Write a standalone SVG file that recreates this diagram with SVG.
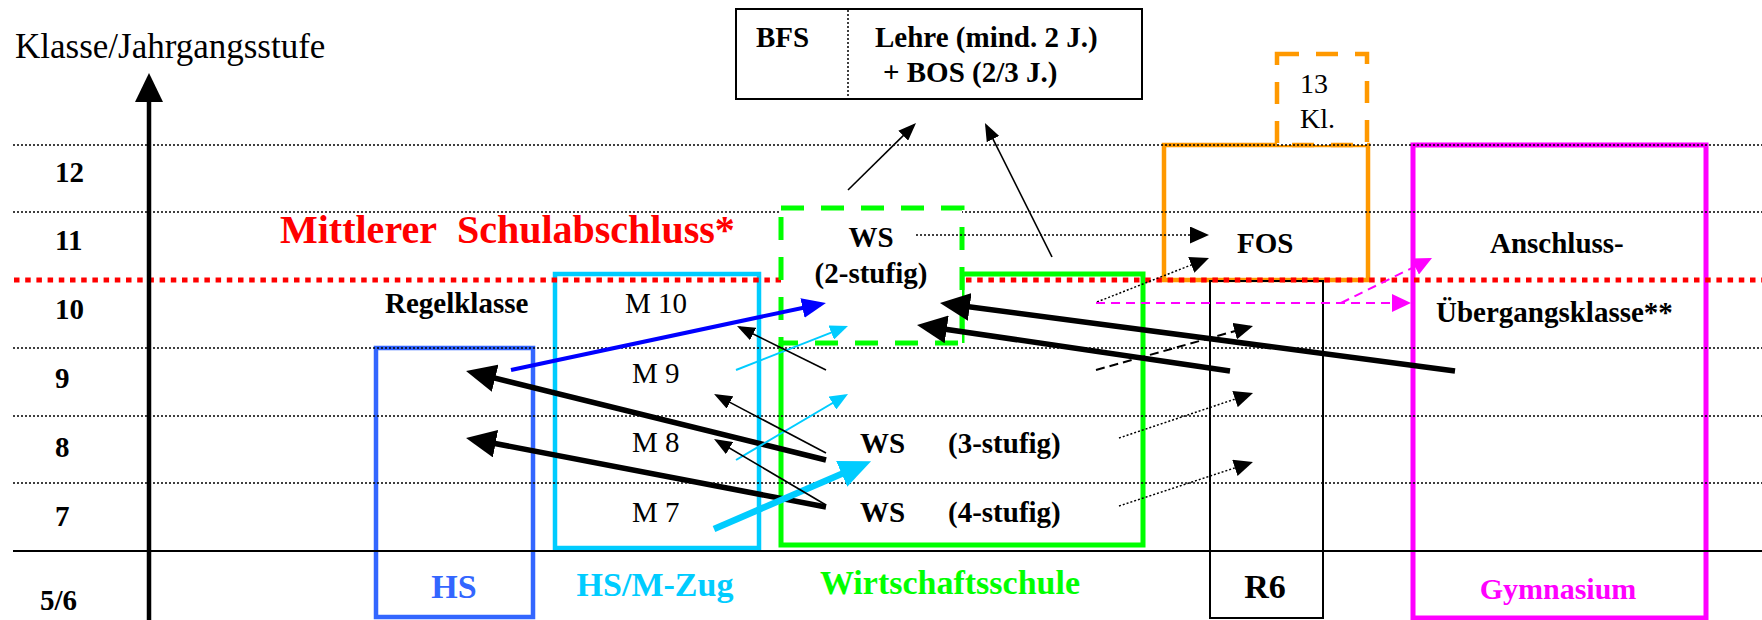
<svg xmlns="http://www.w3.org/2000/svg" width="1762" height="620" viewBox="0 0 1762 620">
<style>
text{font-family:"Liberation Serif","Times New Roman",serif;font-size:29px;fill:#000}
.b{font-weight:bold}
.cat{font-weight:bold;font-size:34px}
.grid{stroke:#000;stroke-width:1.5;stroke-dasharray:2 2;fill:none}
.box{fill:none}
.thin{stroke:#000;stroke-width:1.6;fill:none}
.dot{stroke:#000;stroke-width:1.5;stroke-dasharray:2 2;fill:none}
.thick{stroke:#000;stroke-width:5.5;fill:none}
</style>
<defs>
<marker id="hBig" markerUnits="userSpaceOnUse" markerWidth="30" markerHeight="28" refX="22" refY="14" orient="auto"><path d="M0,0 L30,14 L0,28 z" fill="#000"/></marker>
<marker id="hBlue" markerUnits="userSpaceOnUse" markerWidth="24" markerHeight="20" refX="18" refY="10" orient="auto"><path d="M0,0 L24,10 L0,20 z" fill="#0000ff"/></marker>
<marker id="hCyanBig" markerUnits="userSpaceOnUse" markerWidth="32" markerHeight="28" refX="23" refY="14" orient="auto"><path d="M0,0 L32,14 L0,28 z" fill="#00ccff"/></marker>
<marker id="hCyan" markerUnits="userSpaceOnUse" markerWidth="18" markerHeight="15" refX="15" refY="7.5" orient="auto"><path d="M0,0 L18,7.5 L0,15 z" fill="#00ccff"/></marker>
<marker id="hThin" markerUnits="userSpaceOnUse" markerWidth="18" markerHeight="14" refX="15" refY="7" orient="auto"><path d="M0,0 L18,7 L0,14 z" fill="#000"/></marker>
<marker id="hDot" markerUnits="userSpaceOnUse" markerWidth="19" markerHeight="17" refX="16" refY="8.5" orient="auto"><path d="M0,0 L19,8.5 L0,17 z" fill="#000"/></marker>
<marker id="hMag" markerUnits="userSpaceOnUse" markerWidth="19" markerHeight="18" refX="16" refY="9" orient="auto"><path d="M0,0 L19,9 L0,18 z" fill="#ff00ff"/></marker>
</defs>
<rect width="1762" height="620" fill="#fff"/>

<g id="hs">
<rect class="box" x="376" y="348" width="157" height="269" stroke="#3366ff" stroke-width="4.5"/>
</g>
<g id="hsm">
<rect class="box" x="555" y="274" width="204" height="274" stroke="#00ccff" stroke-width="4.5"/>
</g>
<g id="ws-frame">
<path class="box" d="M781,343 V545 H1143 V274 H962 V343" stroke="#00ff00" stroke-width="5"/>
</g>
<g id="fos">
<rect class="box" x="1164" y="145" width="204" height="135" stroke="#ff9900" stroke-width="4.5"/>
</g>
<g id="r6">
<rect class="box" x="1210" y="281" width="113" height="337" stroke="#000" stroke-width="2"/>
</g>
<g id="gym">
<rect class="box" x="1413" y="145" width="293" height="473" stroke="#ff00ff" stroke-width="5"/>
</g>
<g id="kl13">
<rect x="1277" y="54" width="90" height="91" fill="#fff" stroke="#ff9900" stroke-width="4.5" stroke-dasharray="22 17"/>
</g>
<g id="top">
<rect x="736" y="9" width="406" height="90" fill="#fff" stroke="#000" stroke-width="2"/>
<line x1="848" y1="10" x2="848" y2="98" class="dot" stroke-width="1.2"/>
</g>

<g id="grid">
<line class="grid" x1="13" y1="145" x2="1762" y2="145"/>
<line class="grid" x1="13" y1="212" x2="1762" y2="212"/>
<line class="grid" x1="13" y1="348" x2="1762" y2="348"/>
<line class="grid" x1="13" y1="416" x2="1762" y2="416"/>
<line class="grid" x1="13" y1="483" x2="1762" y2="483"/>
<line x1="13" y1="551" x2="1762" y2="551" stroke="#000" stroke-width="2"/>
<line x1="14" y1="280" x2="1762" y2="280" stroke="#ff0000" stroke-width="5" stroke-dasharray="5.5 5.7"/>
</g>

<g id="ws2">
<rect x="781" y="208" width="181" height="135" fill="#fff" stroke="#00ff00" stroke-width="5" stroke-dasharray="23 17"/>
<text class="b" x="871" y="247" text-anchor="middle">WS</text>
<text class="b" x="871" y="283" text-anchor="middle">(2-stufig)</text>
</g>

<g id="labels">
<text x="15" y="58" style="font-size:35px">Klasse/Jahrgangsstufe</text>
<text class="b" x="55" y="182">12</text>
<text class="b" x="55" y="250">11</text>
<text class="b" x="55" y="319">10</text>
<text class="b" x="55" y="388">9</text>
<text class="b" x="55" y="457">8</text>
<text class="b" x="55" y="526">7</text>
<text class="b" x="40" y="610">5/6</text>
<text class="b" x="280" y="243" style="font-size:40px;fill:#ff0000">Mittlerer&#160; Schulabschluss*</text>
<text class="b" x="385" y="313">Regelklasse</text>
<text x="625" y="313">M 10</text>
<text x="632" y="383">M 9</text>
<text x="632" y="452">M 8</text>
<text x="632" y="522">M 7</text>
<text class="b" x="860" y="453">WS</text>
<text class="b" x="948" y="453">(3-stufig)</text>
<text class="b" x="860" y="522">WS</text>
<text class="b" x="948" y="522">(4-stufig)</text>
<text class="b" x="756" y="47">BFS</text>
<text class="b" x="875" y="47">Lehre (mind. 2 J.)</text>
<text class="b" x="883" y="82">+ BOS (2/3 J.)</text>
<text x="1300" y="93" style="font-size:28px">13</text>
<text x="1300" y="128" style="font-size:28px">Kl.</text>
<text class="b" x="1237" y="253">FOS</text>
<text class="b" x="1490" y="253">Anschluss-</text>
<text class="b" x="1436" y="322">Übergangsklasse**</text>
<text class="cat" x="454" y="598" text-anchor="middle" style="fill:#3366ff">HS</text>
<text class="cat" x="655" y="596" text-anchor="middle" style="fill:#00ccff">HS/M-Zug</text>
<text class="cat" x="950" y="594" text-anchor="middle" style="fill:#00ff00">Wirtschaftsschule</text>
<text class="cat" x="1265" y="598" text-anchor="middle">R6</text>
<text class="b" x="1558" y="599" text-anchor="middle" style="fill:#ff00ff;font-size:30px">Gymnasium</text>
</g>

<g id="connectors">
<line x1="511" y1="370" x2="820.1" y2="304.2" stroke="#0000ff" stroke-width="4" marker-end="url(#hBlue)"/>
<line class="thick" x1="826" y1="460" x2="473.8" y2="372.9" marker-end="url(#hBig)"/>
<line class="thick" x1="826" y1="507" x2="473.9" y2="439.5" marker-end="url(#hBig)"/>
<line class="thick" x1="1455" y1="371" x2="947.9" y2="304.1" marker-end="url(#hBig)"/>
<line class="thick" x1="1230" y1="371" x2="924.9" y2="326.2" marker-end="url(#hBig)"/>
<line x1="714" y1="529" x2="862.8" y2="464.7" stroke="#00ccff" stroke-width="6.5" marker-end="url(#hCyanBig)"/>
<line x1="736" y1="370" x2="845.2" y2="327.1" stroke="#00ccff" stroke-width="2" marker-end="url(#hCyan)"/>
<line x1="736" y1="460" x2="845.4" y2="395.5" stroke="#00ccff" stroke-width="2" marker-end="url(#hCyan)"/>
<line class="thin" x1="826" y1="370" x2="739.7" y2="327.3" marker-end="url(#hThin)"/>
<line class="thin" x1="826" y1="453" x2="716.7" y2="395.4" marker-end="url(#hThin)"/>
<line class="thin" x1="826" y1="505" x2="716.6" y2="440.5" marker-end="url(#hThin)"/>
<line class="thin" x1="848" y1="190" x2="913.9" y2="125.1" marker-end="url(#hThin)"/>
<line class="thin" x1="1052" y1="257" x2="986.3" y2="125.7" marker-end="url(#hThin)"/>
<line class="dot" x1="916" y1="235" x2="1206" y2="235" marker-end="url(#hDot)"/>
<line class="dot" x1="1097" y1="302" x2="1206.2" y2="259.1" marker-end="url(#hDot)"/>
<line class="dot" x1="1119" y1="438" x2="1250.2" y2="394" marker-end="url(#hDot)"/>
<line class="dot" x1="1119" y1="506" x2="1250.1" y2="462.9" marker-end="url(#hDot)"/>
<line x1="1096" y1="370" x2="1250.1" y2="326.8" stroke="#000" stroke-width="2" stroke-dasharray="9 5" marker-end="url(#hDot)"/>
<line x1="1096" y1="303" x2="1408" y2="303" stroke="#ff00ff" stroke-width="2" stroke-dasharray="9 6" marker-end="url(#hMag)"/>
<line x1="1341" y1="303" x2="1429.3" y2="259.4" stroke="#ff00ff" stroke-width="2" stroke-dasharray="9 6" marker-end="url(#hMag)"/>
</g>

<g id="axis">
<line x1="149" y1="98" x2="149" y2="620" stroke="#000" stroke-width="4.5"/>
<path d="M149,73 L163,102 L135,102 z" fill="#000"/>
</g>
</svg>
